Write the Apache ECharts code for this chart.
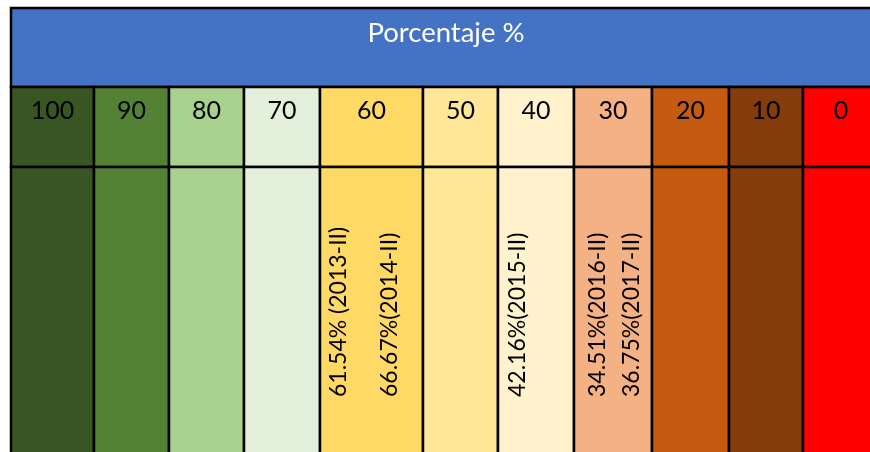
<!DOCTYPE html>
<html><head><meta charset="utf-8">
<script src="https://cdn.jsdelivr.net/npm/echarts@6/dist/echarts.min.js"></script>
<style>html,body{margin:0;padding:0;background:#fff}#c{width:870px;height:452px}</style>
</head><body><div id="c"></div>
<script>
// ---- data ----
const headerTitle = 'Porcentaje %';
const levels = ['100','90','80','70','60','50','40','30','20','10','0'];
const levelColors = ['#375623','#548235','#A9D18E','#E2EFDA','#FFD966','#FFE699','#FFF2CC','#F4B183','#C55A11','#843C0C','#FF0000'];
const results = [61.54, 66.67, 42.16, 34.51, 36.75];
const resultLabels = ['61.54% (2013-II)','66.67%(2014-II)','42.16%(2015-II)','34.51%(2016-II)','36.75%(2017-II)'];

// ---- layout (not data) ----
const colWidths = [83,75,75,76,103,75,76,78,77,74,76];
const labelOffsets = [-33, 18, -18, -15, 19];
const bandTitle = [0, 79], bandHeader = [79, 159], bandBody = [159, 470];
const labelBaseY = 389;
const FONT = 'Lato';

const cum = [0];
colWidths.forEach(w => cum.push(cum[cum.length-1] + w));
const total = cum[cum.length-1];
function levelIndex(v){ return levels.indexOf(String(Math.floor(v/10)*10)); }

const chart = echarts.init(document.getElementById('c'), null, {renderer:'canvas'});
chart.setOption({
  animation:false,
  grid:{left:11, top:8, width: total, height: 470, outerBoundsMode:'none', containLabel:false},
  xAxis:{type:'value', min:0, max: total, show:false},
  yAxis:{type:'value', inverse:true, min:0, max:470, show:false},
  series:[
    {
      type:'custom', silent:true, clip:false,
      data:[[0]],
      renderItem(params, api){
        const p0 = api.coord([0, bandTitle[0]]), p1 = api.coord([total, bandTitle[1]]);
        return {type:'group', children:[
          {type:'rect', shape:{x:p0[0], y:p0[1], width:p1[0]-p0[0], height:p1[1]-p0[1]},
           style:{fill:'#4472C4', stroke:'#000', lineWidth:2.5}},
          {type:'text', style:{text:headerTitle, x:(p0[0]+p1[0])/2 + 1, y:p0[1]+25, align:'center', verticalAlign:'middle',
            fill:'#fff', fontSize:27.5, fontFamily:FONT}}
        ]};
      }
    },
    {
      type:'custom', silent:true, clip:false,
      data: levels.map((l,i)=>[i]),
      renderItem(params, api){
        const i = api.value(0);
        const h0 = api.coord([cum[i], bandHeader[0]]), h1 = api.coord([cum[i+1], bandHeader[1]]);
        const b0 = api.coord([cum[i], bandBody[0]]), b1 = api.coord([cum[i+1], bandBody[1]]);
        return {type:'group', children:[
          {type:'rect', shape:{x:h0[0], y:h0[1], width:h1[0]-h0[0], height:h1[1]-h0[1]},
           style:{fill:levelColors[i], stroke:'#000', lineWidth:2.5}},
          {type:'rect', shape:{x:b0[0], y:b0[1], width:b1[0]-b0[0], height:b1[1]-b0[1]},
           style:{fill:levelColors[i], stroke:'#000', lineWidth:2.5}},
          {type:'text', style:{text:levels[i], x:(h0[0]+h1[0])/2, y:h0[1]+24, align:'center', verticalAlign:'middle',
            fill:'#000', fontSize:25, fontFamily:FONT}}
        ]};
      }
    },
    {
      type:'custom', silent:true, clip:false,
      data: results.map((v,k)=>[v,k]),
      renderItem(params, api){
        const v = api.value(0), k = api.value(1);
        const i = levelIndex(v);
        const c = api.coord([(cum[i]+cum[i+1])/2 + labelOffsets[k], labelBaseY]);
        return {type:'text', x:c[0], y:c[1], rotation:Math.PI/2,
          style:{text:resultLabels[k], x:0, y:0, align:'left', verticalAlign:'middle',
            fill:'#000', fontSize:23, fontFamily:FONT}};
      }
    }
  ]
});
</script></body></html>
